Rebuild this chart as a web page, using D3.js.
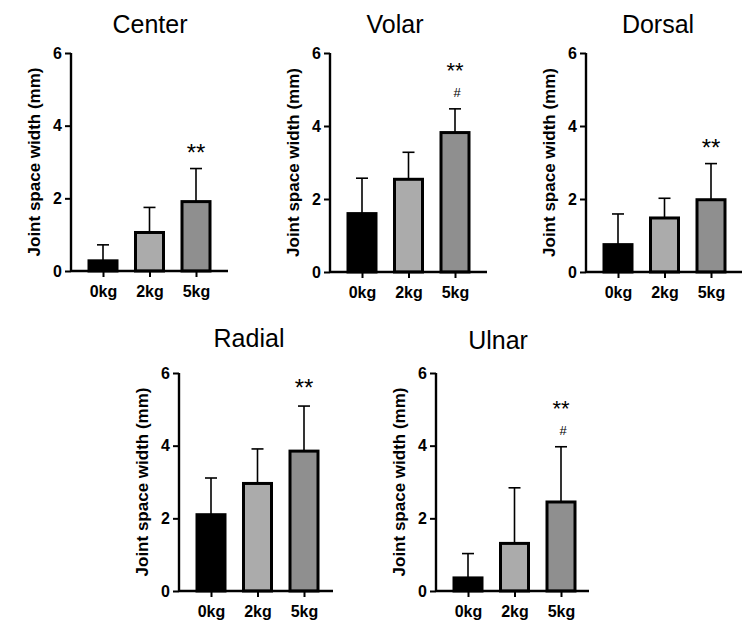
<!DOCTYPE html>
<html><head><meta charset="utf-8">
<script src="https://cdn.jsdelivr.net/npm/d3@7/dist/d3.min.js"></script>
<style>body{margin:0;background:#fff}svg{display:block}</style>
</head><body>
<svg id="chart" width="750" height="638"></svg>
<script>
// ---- data ----
const categories = ["0kg", "2kg", "5kg"];
const panelTitles = ["Center", "Volar", "Dorsal", "Radial", "Ulnar"];
const centerMean = [0.28, 1.06, 1.91];
const centerSD   = [0.44, 0.69, 0.91];
const volarMean  = [1.60, 2.54, 3.82];
const volarSD    = [0.97, 0.74, 0.65];
const dorsalMean = [0.75, 1.48, 1.98];
const dorsalSD   = [0.84, 0.54, 0.99];
const radialMean = [2.10, 2.96, 3.85];
const radialSD   = [1.01, 0.95, 1.24];
const ulnarMean  = [0.36, 1.31, 2.45];
const ulnarSD    = [0.67, 1.53, 1.52];
const sigStars = ["**", "**", "**", "**", "**"];   // above 5kg bar
const sigHash  = ["", "#", "", "", "#"];
const yTicks = [0, 2, 4, 6];
const yLabel = "Joint space width (mm)";
const barColors = ["#000000", "#ababab", "#8f8f8f"];

// ---- layout (pixels) ----
const layout = [
  {x0: 71,  x1: 228, y0: 271, yTop: 53,  tx: 150, ty: 33},
  {x0: 330, x1: 487, y0: 272, yTop: 53,  tx: 395, ty: 33},
  {x0: 586, x1: 742, y0: 272, yTop: 53,  tx: 658, ty: 33},
  {x0: 179, x1: 333, y0: 591, yTop: 373, tx: 249, ty: 347},
  {x0: 436, x1: 589, y0: 591, yTop: 373, tx: 498, ty: 349}
];
const means = [centerMean, volarMean, dorsalMean, radialMean, ulnarMean];
const sds = [centerSD, volarSD, dorsalSD, radialSD, ulnarSD];

const svg = d3.select("#chart");
const FONT = "'Liberation Sans', Arial, Helvetica, sans-serif";

panelTitles.forEach((title, i) => {
  const L = layout[i];
  const g = svg.append("g");
  const y = d3.scaleLinear().domain([0, 6]).range([L.y0, L.yTop]);
  const x = d3.scalePoint().domain(categories).range([L.x0 + 32, L.x0 + 125]);
  const data = categories.map((c, j) => ({c, m: means[i][j], s: sds[i][j], col: barColors[j]}));

  // error bars (upper only)
  const eb = g.selectAll("g.err").data(data).enter().append("g");
  eb.append("line")
    .attr("x1", d => x(d.c)).attr("x2", d => x(d.c))
    .attr("y1", d => y(d.m)).attr("y2", d => y(d.m + d.s))
    .attr("stroke", "#000").attr("stroke-width", 1.6);
  eb.append("line")
    .attr("x1", d => x(d.c) - 6).attr("x2", d => x(d.c) + 6)
    .attr("y1", d => y(d.m + d.s)).attr("y2", d => y(d.m + d.s))
    .attr("stroke", "#000").attr("stroke-width", 1.6);

  // bars
  const bw = 28;
  g.selectAll("rect.bar").data(data).enter().append("rect")
    .attr("x", d => x(d.c) - bw / 2).attr("width", bw)
    .attr("y", d => y(d.m)).attr("height", d => y(0) - y(d.m))
    .attr("fill", d => d.col).attr("stroke", "#000").attr("stroke-width", 3);

  // y axis
  const ya = g.append("g").attr("transform", `translate(${L.x0},0)`)
    .call(d3.axisLeft(y).tickValues(yTicks).tickFormat(d3.format("d")).tickSize(6).tickPadding(3));
  ya.select(".domain").attr("stroke-width", 2.4).attr("d", `M0,${L.yTop}V${L.y0}`);
  ya.selectAll(".tick line").attr("stroke-width", 2);
  ya.selectAll("text").attr("font-family", FONT).attr("font-weight", "bold").attr("font-size", 16).attr("fill", "#000");

  // x axis
  const xa = g.append("g").attr("transform", `translate(0,${L.y0})`)
    .call(d3.axisBottom(x).tickSize(6).tickPadding(9));
  xa.select(".domain").attr("stroke-width", 2.4).attr("d", `M${L.x0},0H${L.x1}`);
  xa.selectAll(".tick line").attr("stroke-width", 2);
  xa.selectAll("text").attr("font-family", FONT).attr("font-weight", "bold").attr("font-size", 16).attr("fill", "#000");

  // y label
  g.append("text")
    .attr("transform", `translate(${L.x0 - 37},${(L.y0 + L.yTop) / 2}) rotate(-90)`)
    .attr("text-anchor", "middle").attr("dominant-baseline", "central")
    .attr("font-family", FONT).attr("font-weight", "bold").attr("font-size", 17)
    .text(yLabel);

  // title
  g.append("text").attr("x", L.tx).attr("y", L.ty)
    .attr("text-anchor", "middle").attr("font-family", FONT).attr("font-size", 25)
    .text(title);

  // significance marks
  const last = data[2];
  const top = y(last.m + last.s);
  if (sigHash[i]) {
    g.append("text").attr("x", x(last.c)).attr("y", top - 31)
      .attr("text-anchor", "middle").attr("font-family", FONT).attr("font-size", 22)
      .text(sigStars[i]);
    g.append("text").attr("x", x(last.c) + 2).attr("y", top - 12)
      .attr("text-anchor", "middle").attr("font-family", FONT).attr("font-size", 13)
      .text(sigHash[i]);
  } else {
    g.append("text").attr("x", x(last.c)).attr("y", top - (i === 3 ? 10 : 8))
      .attr("text-anchor", "middle").attr("font-family", FONT).attr("font-size", 24)
      .text(sigStars[i]);
  }
});
</script>
</body></html>
